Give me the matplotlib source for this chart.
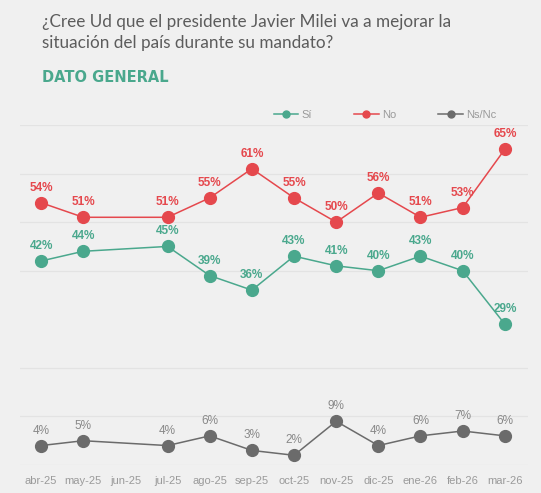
import numpy as np
import matplotlib
matplotlib.use("Agg")
import matplotlib.pyplot as plt
from matplotlib.lines import Line2D

months = ["abr-25", "may-25", "jun-25", "jul-25", "ago-25", "sep-25", "oct-25",
          "nov-25", "dic-25", "ene-26", "feb-26", "mar-26"]
si = [42, 44, None, 45, 39, 36, 43, 41, 40, 43, 40, 29]
no = [54, 51, None, 51, 55, 61, 55, 50, 56, 51, 53, 65]
nsnc = [4, 5, None, 4, 6, 3, 2, 9, 4, 6, 7, 6]

series = [("Sí", si, "#4aa88d", "#4aa88d", "bold"),
          ("No", no, "#e5484d", "#e5484d", "bold"),
          ("Ns/Nc", nsnc, "#6b6b6b", "#888888", "normal")]

BG = "#f0f0f0"
plt.rcParams['font.family'] = ['Liberation Sans', 'DejaVu Sans']

W, H = 541, 493
fig = plt.figure(figsize=(W / 100, H / 100), dpi=100, facecolor=BG)
ax = fig.add_axes([20 / W, 28 / H, 508 / W, 340 / H], facecolor=BG)

x_all = np.arange(len(months))
for name, vals, col, tcol, wt in series:
    xs = [x for x, v in zip(x_all, vals) if v is not None]
    ys = [v for v in vals if v is not None]
    ax.plot(xs, ys, color=col, lw=1.1, marker="o", ms=8.5, zorder=3, label=name)
    for x, y in zip(xs, ys):
        ax.annotate(f"{y}%", (x, y), xytext=(0, 6.5), textcoords="offset points",
                    ha="center", va="bottom", fontsize=8.5, color=tcol,
                    fontweight=wt, zorder=4)

ax.set_xlim(-0.5, 11.55)
ax.set_ylim(0, 70)
for gy in [0, 10, 20, 40, 50, 60, 70]:
    ax.axhline(gy, color="#e3e3e3", lw=0.9, zorder=1)
ax.set_yticks([])
ax.set_xticks(x_all)
ax.set_xticklabels(months, fontsize=8, color="#9a9a9a")
ax.tick_params(axis="x", length=0, pad=8)
for s in ax.spines.values():
    s.set_visible(False)

handles = [Line2D([0], [0], color=c, lw=1.1, marker="o", ms=5) for _, _, c, _, _ in series]
fig.legend(handles, [s[0] for s in series], loc="center", ncol=3,
           bbox_to_anchor=(385 / W, 1 - 115 / H), frameon=False, fontsize=8,
           labelcolor="#9a9a9a", handlelength=2.2, handletextpad=0.3, columnspacing=3.8)

fig.text(42 / W, 1 - 22 / H, "¿Cree Ud que el presidente Javier Milei va a mejorar la",
         fontsize=12.3, color="#5c5c5c", va="center", ha="left", family="Lato")
fig.text(42 / W, 1 - 43 / H, "situación del país durante su mandato?",
         fontsize=12.3, color="#5c5c5c", va="center", ha="left", family="Lato")
fig.text(42 / W, 1 - 77 / H, "DATO GENERAL", fontsize=10.5, color="#4aa88d",
         va="center", ha="left", family="DejaVu Sans", fontweight="bold")

fig.savefig("out.png", dpi=100, facecolor=BG)
